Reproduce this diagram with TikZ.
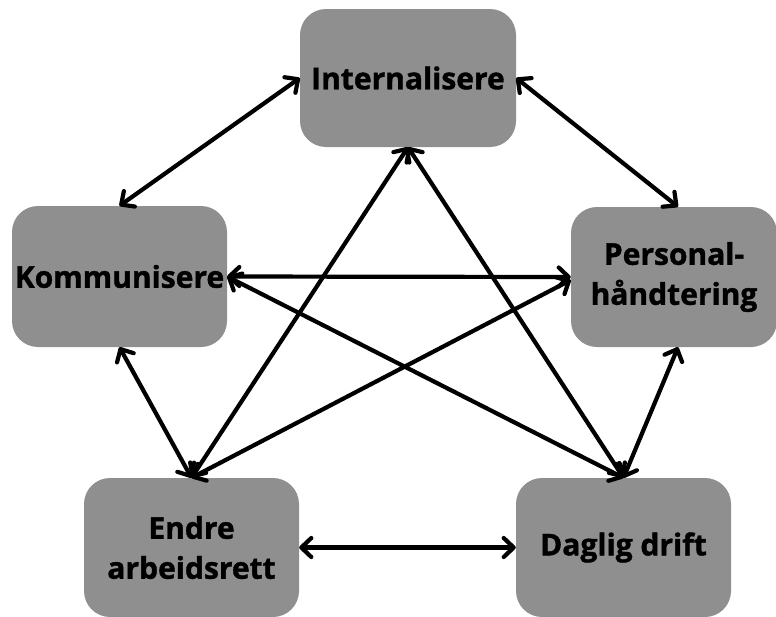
\documentclass[tikz,border=0pt]{standalone}
\usepackage{fontspec}
\setmainfont{Open Sans}[BoldFeatures={FakeBold=1.3}]
\usetikzlibrary{arrows.meta,calc}

\definecolor{boxgray}{RGB}{143,143,143}

\tikzset{
  stage/.style={rectangle, rounded corners=26pt, fill=boxgray, draw=none,
    inner sep=0pt, align=center, text=black,
    font=\fontsize{30pt}{40pt}\selectfont\bfseries},
  link/.style={line width=4.2pt, line cap=round, line join=round,
    {Straight Barb[length=10pt,width=19pt,line width=4.2pt,round]}-{Straight Barb[length=10pt,width=19pt,line width=4.2pt,round]}}
}

\begin{document}
\begin{tikzpicture}[x=1pt,y=-1pt]
  \useasboundingbox (0,0) rectangle (776,616);

  % the five stages
  \node[stage, minimum width=216pt, minimum height=138pt] (int) at (408,78) {Internalisere};
  \node[stage, minimum width=215pt, minimum height=141pt] (kom) at (119.5,276.5) {Kommunisere};
  \node[stage, minimum width=206pt, minimum height=140pt] (per) at (674,277) {Personal-\\håndtering};
  \node[stage, minimum width=215pt, minimum height=139pt] (end) at (191.5,547.5) {Endre\\arbeidsrett};
  \node[stage, minimum width=215pt, minimum height=139pt] (dag) at (623.5,547.5) {Daglig drift};

  % two-way links between the stages
  \draw[link] (int.west) -- (kom.north);
  \draw[link] (int.east) -- ($(per.north)+(4,0)$);
  \draw[link] (kom.east) -- (per.west);
  \draw[link] (kom.south) -- (end.north);
  \draw[link] (kom.east) -- (dag.north);
  \draw[link] (int.south) -- (end.north);
  \draw[link] (int.south) -- (dag.north);
  \draw[link] ($(per.west)+(0,3)$) -- (end.north);
  \draw[link] ($(per.south)+(4,0)$) -- (dag.north);
  \draw[link] (end.east) -- (dag.west);
\end{tikzpicture}
\end{document}
